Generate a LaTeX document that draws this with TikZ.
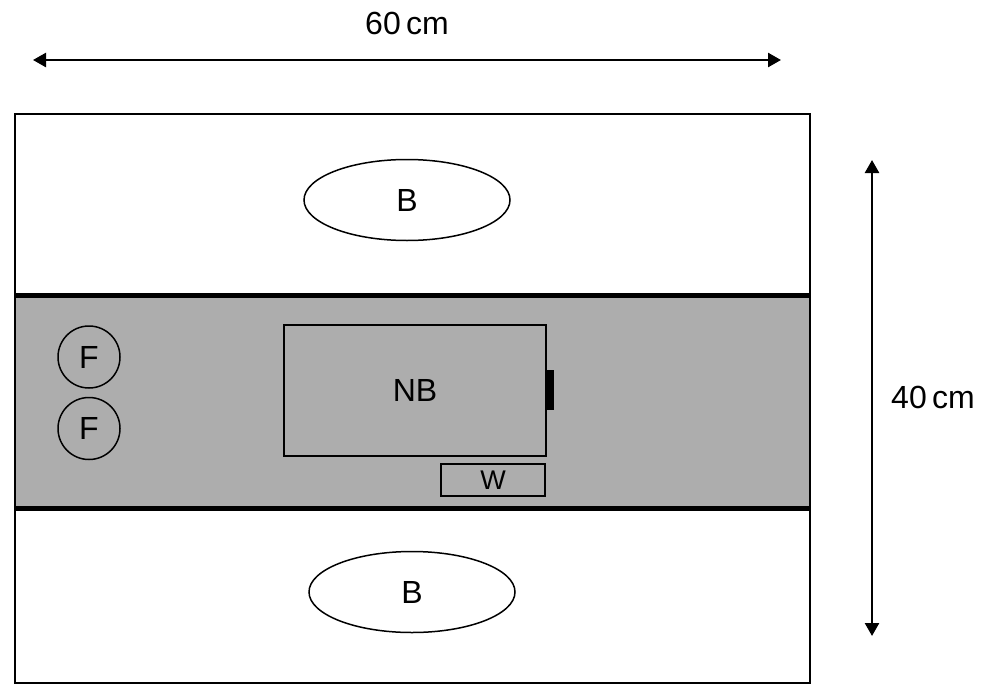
\documentclass[tikz,border=0pt]{standalone}
\usepackage{fontspec}
\setmainfont{Liberation Sans}
\usetikzlibrary{shapes,arrows.meta,positioning,calc}

\begin{document}
\begin{tikzpicture}[
    x=1pt, y=-1pt,
    lbl/.style={font=\fontsize{32}{38}\selectfont, inner sep=0pt},
    bowl/.style={ellipse, draw=black, line width=1.5pt, minimum width=206pt, minimum height=81pt, font=\fontsize{32}{38}\selectfont},
    feeder/.style={circle, draw=black, line width=1.5pt, minimum size=62pt, inner sep=0pt, font=\fontsize{32}{38}\selectfont},
    boxnb/.style={rectangle, draw=black, line width=2pt, minimum width=262pt, minimum height=131pt, font=\fontsize{32}{38}\selectfont},
    boxw/.style={rectangle, draw=black, line width=2pt, minimum width=104pt, minimum height=32pt, inner sep=0pt, font=\fontsize{27}{30}\selectfont},
    dim/.style={{Triangle[length=13pt,width=14pt]}-{Triangle[length=13pt,width=14pt]}, line width=2.5pt}
]
    \useasboundingbox (0,0) rectangle (992,688);

    % arena and central corridor
    \fill [black!32] (15,295) rectangle (810,508);
    \draw [line width=2pt] (15,114) rectangle (810,683);
    \draw [line width=5pt] (15,295) -- (810,295);
    \draw [line width=5pt] (15,508) -- (810,508);

    \node [bowl] (btop) at (407,200) {B};
    \node [bowl] (bbot) at (412,592) {B};

    \node [feeder] (f1) at (89,357) {F};
    \node [feeder, below=8pt of f1] (f2) {F};

    \node [boxnb] (nb) at (415,390.5) {NB};
    \fill (546,370) rectangle (554,410);
    \node [boxw] (w) at (493,480) {\raisebox{-3pt}{W}};

    % dimensions
    \coordinate (hl) at (33,60);
    \coordinate (hr) at (781,60);
    \draw [dim] (hl) -- (hr);
    \node [lbl] (hlab) at (407,23) {60\,cm};

    \coordinate (vt) at (872,160);
    \coordinate (vb) at (872,636);
    \draw [dim] (vt) -- (vb);
    \node [lbl] (vlab) at (933,397) {40\,cm};
\end{tikzpicture}
\end{document}
